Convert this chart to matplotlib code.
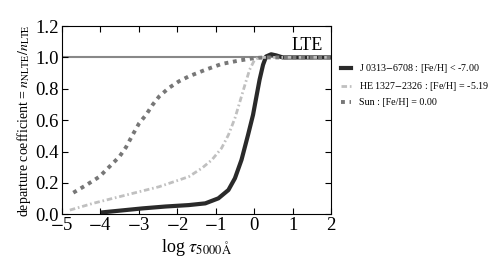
import matplotlib
matplotlib.use("Agg")
import matplotlib.pyplot as plt

plt.rcParams['font.family'] = ['Liberation Serif', 'DejaVu Serif']
plt.rcParams['mathtext.fontset'] = 'stix'

# solid: J 0313-6708
j_x = [-3.93, -2.90, -2.30, -1.70, -1.27, -0.93, -0.67, -0.50, -0.33, -0.16,
       -0.03, 0.05, 0.14, 0.23, 0.31, 0.44, 0.57, 0.74, 1.0, 2.0]
j_y = [0.013, 0.038, 0.05, 0.059, 0.07, 0.102, 0.155, 0.23, 0.347, 0.506,
       0.634, 0.74, 0.858, 0.953, 1.006, 1.02, 1.013, 1.0, 1.0, 1.0]

# dash-dot: HE 1327-2326
he_x = [-4.79, -4.19, -3.33, -2.47, -1.70, -1.36, -1.10, -0.85, -0.67, -0.50,
        -0.37, -0.24, -0.12, 0.01, 0.14, 1.0, 2.0]
he_y = [0.027, 0.07, 0.123, 0.176, 0.24, 0.294, 0.347, 0.421, 0.506, 0.613,
        0.719, 0.826, 0.921, 0.985, 1.0, 1.0, 1.0]

# dotted: Sun
sun_x = [-4.70, -4.36, -4.02, -3.76, -3.50, -3.33, -3.16, -2.99, -2.81, -2.64,
         -2.47, -2.22, -1.96, -1.70, -1.27, -0.85, -0.42, 0.01, 0.3, 1.0, 2.0]
sun_y = [0.138, 0.187, 0.24, 0.304, 0.368, 0.428, 0.506, 0.58, 0.634, 0.698,
         0.751, 0.805, 0.847, 0.879, 0.921, 0.958, 0.979, 0.996, 1.0, 1.0, 1.0]

fig = plt.figure(figsize=(4.98, 2.63), dpi=100)
ax = fig.add_axes([0.124, 0.185, 0.541, 0.716])

ax.axhline(1.0, color='#888888', lw=1.5, zorder=1)
ax.plot(j_x, j_y, color='#2a2a2a', lw=3.0, ls='-',
        label='J 0313$-$6708 : [Fe/H] < -7.00')
ax.plot(he_x, he_y, color='#c0c0c0', lw=2.0, ls=(0, (2, 1, 0.6, 1)),
        label='HE 1327$-$2326 : [Fe/H] = -5.19')
ax.plot(sun_x, sun_y, color='#777777', lw=2.8, ls=(0, (1, 1.2)),
        label='Sun : [Fe/H] = 0.00')

ax.text(1.37, 1.049, 'LTE', fontsize=13, ha='center', va='baseline')

ax.set_xlim(-5, 2)
ax.set_ylim(0, 1.2)
ax.set_xticks(range(-5, 3))
ax.set_yticks([0.0, 0.2, 0.4, 0.6, 0.8, 1.0, 1.2])
ax.set_yticklabels(['0.0', '0.2', '0.4', '0.6', '0.8', '1.0', '1.2'])
ax.tick_params(direction='in', top=True, right=True, labelsize=13.5,
               length=4, pad=2)
ax.set_xticklabels(['$-$5', '$-$4', '$-$3', '$-$2', '$-$1', '0', '1', '2'])

ax.set_xlabel(r'log $\tau_{5000\mathrm{\AA}}$', fontsize=13, labelpad=2)
ax.set_ylabel(r'departure coefficient = $n_{\mathrm{NLTE}}/n_{\mathrm{LTE}}$',
              fontsize=10, labelpad=2)

ax.legend(loc='upper left', bbox_to_anchor=(341 / 498, 1 - 62 / 263),
          bbox_transform=fig.transFigure, frameon=False, fontsize=7.2,
          handlelength=1.0, handletextpad=0.8, borderpad=0,
          borderaxespad=0, labelspacing=0.5)

fig.savefig('out.png', dpi=100)
